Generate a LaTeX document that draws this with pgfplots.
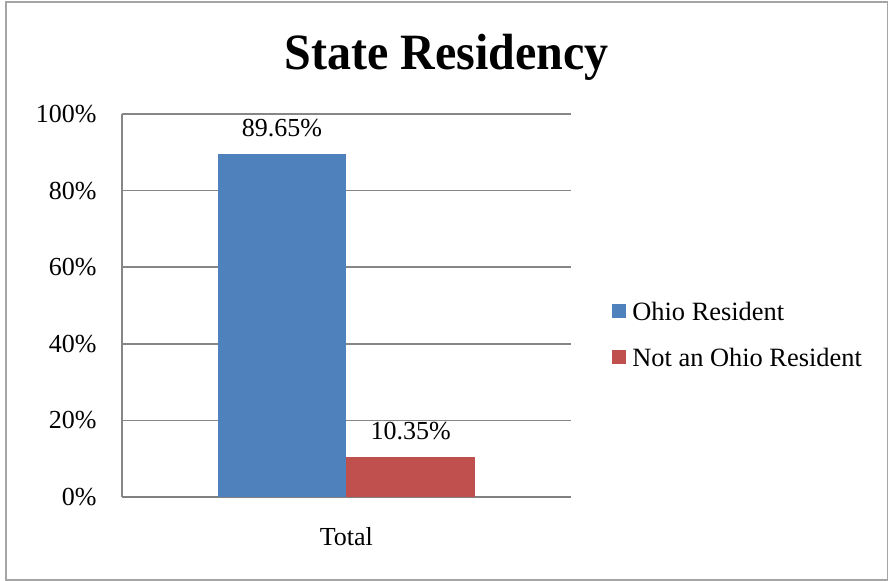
\documentclass[border=0pt]{standalone}
\usepackage{pgfplots}
\pgfplotsset{compat=1.18}
\usepackage{fontspec}
\setmainfont{Liberation Serif}
\definecolor{barblue}{RGB}{79,129,189}
\definecolor{barred}{RGB}{192,80,77}
\definecolor{gridgray}{RGB}{134,134,134}
\definecolor{axisgray}{RGB}{128,128,128}
\definecolor{framegray}{RGB}{165,165,165}
\begin{document}
\begin{tikzpicture}
\useasboundingbox (0,0) rectangle (445pt,290.5pt);
\draw[framegray, line width=0.6pt] (3pt,0.5pt) rectangle (443.85pt,289.5pt);
\node[anchor=base, font=\fontsize{24}{28}\selectfont\bfseries, inner sep=0pt, yscale=1.06] at (223.25pt,255.5pt) {State Residency};
\begin{axis}[
  at={(61pt,42pt)}, anchor=south west,
  scale only axis, width=224.35pt, height=191.5pt,
  xmin=-1, xmax=1, ymin=0, ymax=100, enlargelimits=false,
  ybar=0pt, bar width=64.35pt,
  axis lines=left, axis line style={-},
  x axis line style={draw=axisgray, line width=1pt},
  y axis line style={draw=gridgray, line width=0.8pt},
  major tick length=0pt,
  xtick={0}, xticklabels={Total},
  ytick={0,20,40,60,80,100},
  yticklabels={0\%,20\%,40\%,60\%,80\%,100\%},
  ymajorgrids, grid style={draw=gridgray, line width=0.8pt},
  tick label style={font=\fontsize{13}{15}\selectfont, inner sep=0pt},
  yticklabel style={xshift=-12.5pt},
  xticklabel style={yshift=-15pt},
  point meta=explicit symbolic,
  nodes near coords,
  nodes near coords style={font=\fontsize{13}{15}\selectfont, inner sep=0pt, anchor=south, yshift=8.35pt, text=black},
  legend style={draw=none, fill=none, at={(rel axis cs:1.092,0.509)}, anchor=north west, font=\fontsize{13.2}{15}\selectfont, row sep=14pt, column sep=3pt, nodes={inner sep=0pt, text height=9pt, text depth=0pt}, inner sep=0pt},
  legend cell align=left,
  every axis plot post/.append style={legend image code/.code={\fill[#1] (0pt,-3.35pt) rectangle (7pt,3.65pt);}},
]
\addplot[fill=barblue, draw=none] coordinates {(0,89.65) [89.65\%]};
\addplot[fill=barred, draw=none] coordinates {(0,10.35) [10.35\%]};
\legend{Ohio Resident, Not an Ohio Resident}
\end{axis}
\end{tikzpicture}
\end{document}
